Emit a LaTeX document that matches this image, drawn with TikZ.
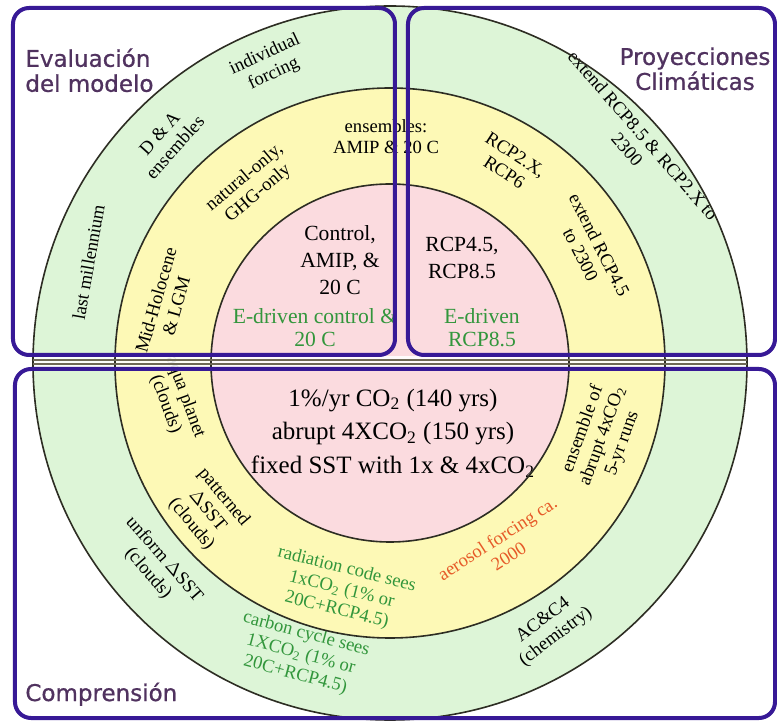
\documentclass[tikz,border=0pt]{standalone}
\usepackage{fontspec}
\setmainfont{Liberation Serif}
\newfontfamily\titlefont[FakeBold=0.8]{DejaVu Sans}
\usetikzlibrary{positioning}

\definecolor{ringgreen}{RGB}{221,245,215}
\definecolor{ringyellow}{RGB}{253,249,182}
\definecolor{ringpink}{RGB}{251,219,223}
\definecolor{circleline}{RGB}{45,45,35}
\definecolor{boxblue}{RGB}{55,25,150}
\definecolor{titlepurple}{RGB}{80,50,95}
\definecolor{textgreen}{RGB}{50,150,60}
\definecolor{textorange}{RGB}{230,90,40}
\definecolor{bandgray}{RGB}{110,105,85}

\tikzset{
	ring/.style={draw=circleline, line width=0.8pt},
	ringtext/.style={font=\fontsize{9.3}{10.5}\selectfont, align=center, inner sep=0pt},
	coretext/.style={font=\fontsize{10.8}{13.5}\selectfont, align=center, inner sep=0pt},
	bigtext/.style={font=\fontsize{12.5}{16.8}\selectfont, align=center, inner sep=0pt},
	regionbox/.style={draw=boxblue, line width=2pt, rounded corners=8pt},
	regiontitle/.style={font=\titlefont\fontsize{11.5}{12.5}\selectfont, text=titlepurple, inner sep=0pt}
}

\begin{document}
\begin{tikzpicture}[x=0.5pt, y=0.5pt]
	\useasboundingbox (-390,-359) rectangle (387,363);

	\fill[ringgreen] (0,0) circle (357);
	\fill[ringyellow] (0,0) circle (275);
	\fill[ringpink] (0,0) circle (179);

	\begin{scope}[every node/.style={ringtext}]
		\node[rotate=80] (lastmil) at (161.5:318) {last millennium};
		\node[rotate=48] (dna) at (135:315) {D \& A\\ensembles};
		\node[rotate=25] (indiv) at (112:322) {individual\\forcing};
		\node[rotate=-49] (ext85) at (42:330) {extend RCP8.5 \& RCP2.X to\\2300};
		\node[rotate=-49] (unif) at (221:310) {unform $\Delta$SST\\(clouds)};
		\node[rotate=-15, text=textgreen] (carbon) at (253:305) {carbon cycle sees\\1XCO\textsubscript{2} (1\% or\\20C+RCP4.5)};
		\node[rotate=37] (chem) at (301:310) {AC\&C4\\(chemistry)};

		\node[rotate=74] (holo) at (165:232) {Mid-Holocene\\\& LGM};
		\node[rotate=40] (natural) at (128:225) {natural-only,\\GHG-only};
		\node (amip) at (91:226) {ensembles:\\AMIP \& 20 C};
		\node[rotate=-33] (rcp26) at (59:233) {RCP2.X,\\RCP6};
		\node[rotate=-63] (ext45) at (29.5:230) {extend RCP4.5\\to 2300};
		\node[rotate=-70] (aqua) at (190:218) {aqua planet\\(clouds)};
		\node[rotate=-50] (patt) at (219:235) {patterned\\$\Delta$SST\\(clouds)};
		\node[rotate=-14, text=textgreen] (radcode) at (258:232) {radiation code sees\\1xCO\textsubscript{2} (1\% or\\20C+RCP4.5)};
		\node[rotate=33, text=textorange] (aerosol) at (301.5:216) {aerosol forcing ca.\\2000};
		\node[rotate=70] (abrupt) at (341:225) {ensemble of\\abrupt 4xCO\textsubscript{2}\\5-yr runs};
	\end{scope}

	\begin{scope}[every node/.style={coretext}]
		\node (control) at (-50,103) {Control,\\AMIP, \&\\20 C};
		\node[text=textgreen, font=\fontsize{10.8}{11.5}\selectfont] (edcontrol) at (-75,35) {E-driven control \&\\20 C};
		\node (rcp45) at (72,105) {RCP4.5,\\RCP8.5};
		\node[text=textgreen, font=\fontsize{10.8}{11.5}\selectfont] (edrcp) at (92,35) {E-driven\\RCP8.5};
	\end{scope}
	\node[bigtext] (co2runs) at (3,-70) {1\%/yr CO\textsubscript{2} (140 yrs)\\abrupt 4XCO\textsubscript{2} (150 yrs)\\fixed SST with 1x \& 4xCO\textsubscript{2}};

	\fill[white, opacity=0.9] (-377,7) rectangle (385,-5);
	\draw[ring] (0,0) circle (357);
	\draw[ring] (0,0) circle (275);
	\draw[ring] (0,0) circle (179);
	\draw[bandgray, line width=0.8pt] (-357,3) -- (357,3);
	\draw[bandgray, line width=0.8pt] (-357,-1) -- (357,-1);

	\draw[regionbox] (-377,355) rectangle (5,8);
	\draw[regionbox] (18,355) rectangle (385,8);
	\draw[regionbox] (-375,-6) rectangle (385,-355);

	\node[regiontitle, anchor=north west, align=left] (evaluacion) at (-365,315) {Evaluación\\del modelo};
	\node[regiontitle, anchor=north, align=center] (proyecciones) at (305,316) {Proyecciones\\Climáticas};
	\node[regiontitle, anchor=base west] (comprension) at (-365,-338) {Comprensión};
\end{tikzpicture}
\end{document}
